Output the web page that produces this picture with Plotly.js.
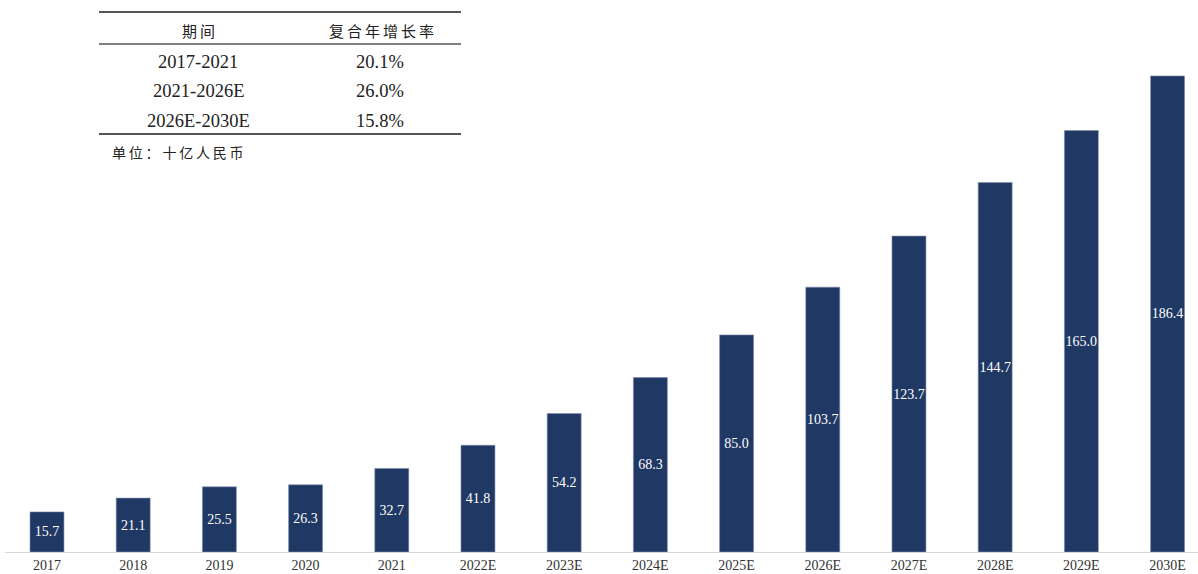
<!DOCTYPE html>
<html><head><meta charset="utf-8">
<script src="https://cdn.plot.ly/plotly-3.0.1.min.js"></script>
<style>html,body{margin:0;padding:0;background:#fff}#c{width:1198px;height:574px}</style>
</head><body><div id="c"></div>
<script>
const categories = ["2017","2018","2019","2020","2021","2022E","2023E","2024E","2025E","2026E","2027E","2028E","2029E","2030E"];
const values = [15.7,21.1,25.5,26.3,32.7,41.8,54.2,68.3,85.0,103.7,123.7,144.7,165.0,186.4];
const tableHeader = ["期间","复合年增长率"];
const tablePeriods = ["2017-2021","2021-2026E","2026E-2030E"];
const tableCagr = ["20.1%","26.0%","15.8%"];
const unitNote = "单位：十亿人民币";

const W = 1198, H = 574;
const pxp = v => (v - 5) / (W - 5);   // x pixel -> paper
const py = v => 1 - v / (H - 22);      // y pixel -> paper
const spaced = s => s.split('').join('\u2009');

const annotations = [];
const serif = "Liberation Serif, Times New Roman, serif";
const cjk = "Noto Sans CJK SC, sans-serif";
const rowY = [62, 91, 121];
annotations.push({xref:'paper',yref:'paper',x:pxp(198),y:py(30),text:spaced(tableHeader[0]),showarrow:false,font:{family:cjk,size:15,color:'#222'},xanchor:'center',yanchor:'middle'});
annotations.push({xref:'paper',yref:'paper',x:pxp(381),y:py(30),text:spaced(tableHeader[1]),showarrow:false,font:{family:cjk,size:15,color:'#222'},xanchor:'center',yanchor:'middle'});
tablePeriods.forEach((p,i)=>{
  annotations.push({xref:'paper',yref:'paper',x:pxp(198),y:py(rowY[i]),text:p,showarrow:false,font:{family:serif,size:18.5,color:'#222'},xanchor:'center',yanchor:'middle'});
  annotations.push({xref:'paper',yref:'paper',x:pxp(380),y:py(rowY[i]),text:tableCagr[i],showarrow:false,font:{family:serif,size:18.5,color:'#222'},xanchor:'center',yanchor:'middle'});
});
annotations.push({xref:'paper',yref:'paper',x:pxp(110),y:py(152),text:spaced(unitNote),showarrow:false,font:{family:cjk,size:14,color:'#222'},xanchor:'left',yanchor:'middle'});

const shapes = [12,44,134].map((y,i)=>({type:'line',xref:'paper',yref:'paper',x0:pxp(99),x1:pxp(461),y0:py(y),y1:py(y),line:{color:'#555',width:i===1?1.5:2}}));

const trace = {
  type:'bar', x:categories, y:values,
  marker:{color:'#203864', line:{color:'#7f8fae', width:0.6}},
  text: values.map(v=>v.toFixed(1)),
  textposition:'inside', insidetextanchor:'middle', textangle:0, constraintext:'none',
  textfont:{family:serif,size:14,color:'#ffffff'},
  cliponaxis:false, hoverinfo:'skip'
};

const layout = {
  width:W, height:H,
  margin:{l:5,r:0,t:0,b:22,pad:0},
  paper_bgcolor:'#fff', plot_bgcolor:'#fff',
  bargap:0.606,
  showlegend:false,
  xaxis:{type:'category', range:[-0.487,13.353], showline:true, linecolor:'#d9d9d9', linewidth:1,
    ticks:'', showgrid:false, zeroline:false, tickfont:{family:serif,size:14,color:'#333'}, fixedrange:true},
  yaxis:{range:[0,552/2.554], visible:false, showgrid:false, zeroline:false, fixedrange:true},
  annotations, shapes,
  uniformtext:{mode:false}
};
Plotly.newPlot('c',[trace],layout,{displayModeBar:false,staticPlot:true});
</script></body></html>
